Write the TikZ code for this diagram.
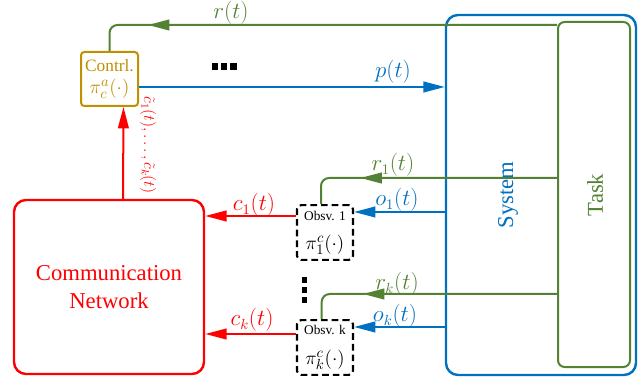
\documentclass[tikz,border=0pt]{standalone}
\usepackage{fontspec}
\setmainfont{Liberation Serif}
\usepackage{tikz}
\usetikzlibrary{arrows.meta, positioning, calc, decorations.markings}
\definecolor{sysblue}{RGB}{0, 112, 192}
\definecolor{taskgreen}{RGB}{84, 130, 53}
\definecolor{ctrlgold}{RGB}{191, 144, 0}
\definecolor{netred}{RGB}{255, 0, 0}

\begin{document}
\begin{tikzpicture}[x=0.75pt, y=-0.75pt,
  tip/.style={-{Triangle[length=16pt, width=8pt]}},
  midtip/.style={postaction={decorate}, decoration={markings, mark=at position #1 with {\arrow{Triangle[length=16pt, width=8pt]}}}},
  wire/.style={line width=1.5pt},
  lbl/.style={font=\fontsize{16}{18}\selectfont},
  obsbox/.style={draw=black, line width=1.6pt, dash pattern=on 5pt off 3pt, rounded corners=3pt, minimum width=42pt, minimum height=41pt, inner sep=1pt, align=center, font=\fontsize{15}{17}\selectfont}]
  \useasboundingbox (0,0) rectangle (642,377);

  \node[draw=sysblue, line width=1.8pt, rounded corners=9pt, minimum width=142.5pt, minimum height=270pt] (sys) at (541,195) {};
  \node[text=sysblue, rotate=90, font=\fontsize{17}{20}\selectfont] (syslbl) at (508,195) {System};
  \node[draw=taskgreen, line width=1.5pt, rounded corners=5pt, minimum width=54pt, minimum height=258.75pt] (task) at (594,194.5) {};
  \node[text=taskgreen, rotate=90, font=\fontsize{17}{20}\selectfont] (tasklbl) at (595,195) {Task};

  \node[draw=netred, text=netred, line width=1.8pt, rounded corners=9pt, minimum width=142.5pt, minimum height=130.5pt, align=center, font=\fontsize{17}{21}\selectfont] (net) at (109,287) {Communication\\Network};
  \node[draw=ctrlgold, text=ctrlgold, line width=1.5pt, rounded corners=2.5pt, minimum width=42.75pt, minimum height=40.5pt, inner sep=1pt, align=center] (ctrl) at (109.5,79) {{\fontsize{13}{14}\selectfont Contrl.}\\[4pt]{\fontsize{15}{16}\selectfont $\pi_c^a(\cdot)$}};

  \node[obsbox] (obs1) at (325,232.5) {{\fontsize{10}{11}\selectfont Obsv. 1}\\[5pt]$\pi_1^c(\cdot)$};
  \node[obsbox] (obsk) at (325,347.5) {{\fontsize{10}{11}\selectfont Obsv. k}\\[5pt]$\pi_k^c(\cdot)$};

  \coordinate (rin) at (task.west |- 0,25);
  \coordinate (r1in) at (task.west |- 0,178);
  \coordinate (rkin) at (task.west |- 0,294);
  \coordinate (o1in) at (sys.west |- 0,212);
  \coordinate (okin) at (sys.west |- 0,327);

  \draw[taskgreen, wire, rounded corners=6pt, midtip=0.87] (rin) -| (ctrl.north);
  \draw[taskgreen, wire, rounded corners=6pt, midtip=0.76] (r1in) -| ([xshift=-3pt]obs1.north);
  \draw[taskgreen, wire, rounded corners=6pt, midtip=0.755] (rkin) -| ([xshift=-2.5pt]obsk.north);

  \draw[sysblue, wire, tip] (ctrl.east |- 0,87) -- (sys.west |- 0,87);
  \draw[sysblue, wire, tip] (o1in) -- (obs1.east |- o1in);
  \draw[sysblue, wire, tip] (okin) -- (obsk.east |- okin);

  \draw[netred, wire, tip] (obs1.west |- 0,216) -- (net.east |- 0,216);
  \draw[netred, wire, tip] (obsk.west |- 0,334) -- (net.east |- 0,334);
  \draw[netred, wire, tip] ([xshift=10.5pt]net.north) -- ([xshift=10.5pt]ctrl.south);

  \node[lbl, text=taskgreen] (rlbl) at (231,13) {$r(t)$};
  \node[lbl, text=sysblue] (plbl) at (393,72) {$p(t)$};
  \node[lbl, text=taskgreen] (r1lbl) at (393,165) {$r_1(t)$};
  \node[lbl, text=sysblue] (o1lbl) at (397,200) {$o_1(t)$};
  \node[lbl, text=netred] (c1lbl) at (254,205) {$c_1(t)$};
  \node[lbl, text=taskgreen] (rklbl) at (397,284) {$r_k(t)$};
  \node[lbl, text=sysblue] (oklbl) at (395,316) {$o_k(t)$};
  \node[lbl, text=netred] (cklbl) at (252,320) {$c_k(t)$};
  \node[text=netred, rotate=-90, inner sep=0pt, font=\fontsize{12}{14}\selectfont] (ctlbl) at (148,145) {$\tilde{c}_1(t),\dots,\tilde{c}_k(t)$};

  \foreach \dx in {215,224.2,233.4}
    \fill (\dx-3.2,63.3) rectangle (\dx+3.2,70);
  \foreach \dy in {280,290,300}
    \fill (301.7,\dy-3) rectangle (307.3,\dy+3);
\end{tikzpicture}
\end{document}
